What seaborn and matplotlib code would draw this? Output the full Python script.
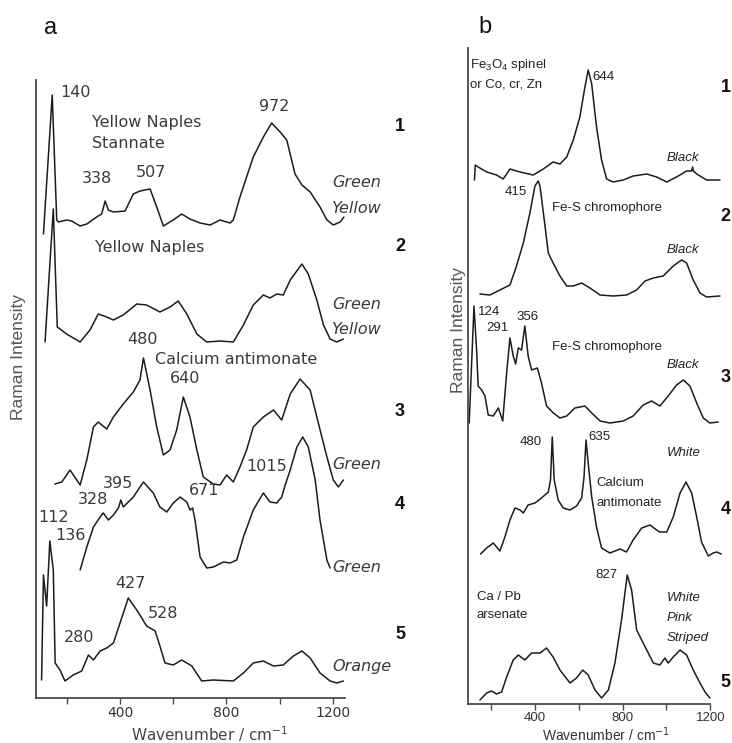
import matplotlib
matplotlib.use("Agg")
import matplotlib.pyplot as plt
import pandas as pd
import seaborn as sns

sns.set_style("ticks")
plt.rcParams['font.family'] = ['Liberation Sans', 'DejaVu Sans']
plt.rcParams['mathtext.fontset'] = 'dejavusans'

# ---------------- panel a spectra (wavenumber / cm-1, intensity a.u.) ----------------
a1_w = [112, 145, 162, 168, 199, 218, 250, 275, 312, 331, 344, 356, 375, 419, 450, 475, 513, 538, 563, 600,
        632, 663, 701, 739, 776, 814, 826, 851, 901, 939, 970, 1002, 1027, 1058, 1084, 1115, 1152, 1178,
        1202, 1228, 1242]
a1_i = [-7, 132, 7, 5, 7, 6, 1, 3, 10, 13, 26, 17, 15, 16, 33, 36, 38, 20, 1, 7,
        13, 8, 4, 2, 7, 4, 7, 30, 70, 90, 104, 95, 87, 53, 42, 35, 20, 7,
        2, 5, 10]
a2_w = [118, 149, 164, 199, 250, 287, 318, 350, 375, 412, 463, 500, 550, 588, 619, 651, 689, 726, 776, 826,
        864, 901, 939, 964, 989, 1014, 1040, 1084, 1108, 1140, 1165, 1190, 1215, 1240]
a2_i = [0, 133, 15, 8, 0, 12, 28, 25, 22, 27, 38, 37, 30, 35, 41, 28, 8, 0, 1, 0,
        17, 37, 47, 44, 48, 47, 62, 78, 68, 42, 17, 3, 0, 3]
a3_w = [155, 181, 212, 250, 275, 300, 318, 350, 375, 412, 450, 475, 488, 513, 538, 563, 588, 613, 638, 663,
        689, 713, 751, 776, 801, 826, 851, 876, 901, 939, 977, 1008, 1040, 1077, 1115, 1140, 1178, 1202,
        1221, 1240]
a3_i = [3, 5, 17, 2, 27, 60, 65, 58, 70, 83, 95, 107, 129, 97, 60, 32, 37, 57, 90, 70,
        37, 10, 3, 2, 12, 5, 20, 37, 60, 70, 77, 67, 93, 108, 97, 70, 30, 7,
        0, 7]
a4_w = [250, 275, 300, 325, 337, 356, 375, 394, 403, 412, 450, 488, 525, 550, 576, 600, 626, 651, 663, 673,
        682, 701, 726, 751, 789, 814, 839, 864, 901, 939, 964, 989, 1008, 1021, 1040, 1065, 1087, 1108,
        1134, 1152, 1178, 1190]
a4_i = [0, 23, 43, 53, 57, 50, 55, 62, 70, 63, 73, 88, 77, 63, 58, 67, 73, 68, 60, 62,
        50, 13, 2, 3, 8, 7, 10, 33, 60, 77, 68, 67, 73, 85, 100, 123, 133, 123,
        90, 50, 10, 2]
a5_w = [105, 112, 124, 136, 149, 156, 174, 193, 224, 256, 281, 300, 325, 350, 375, 400, 431, 463, 500, 532,
        550, 569, 600, 632, 670, 707, 751, 826, 864, 901, 939, 977, 1014, 1052, 1084, 1115, 1152, 1190,
        1215, 1240]
a5_i = [3, 108, 77, 142, 113, 20, 13, 2, 8, 12, 28, 23, 32, 35, 40, 60, 85, 73, 57, 52,
        37, 20, 18, 23, 17, 2, 3, 2, 10, 20, 22, 17, 18, 27, 32, 25, 10, 2,
        0, 2]
a_offsets = [471, 356, 211, 128, 15]

# ---------------- panel b spectra ----------------
b1_w = [124, 128, 141, 180, 225, 255, 286, 332, 392, 438, 483, 514, 545, 575, 605, 628, 643, 659, 681, 704,
        727, 757, 803, 848, 910, 955, 1001, 1046, 1092, 1115, 1119, 1123, 1138, 1183, 1244]
b1_i = [2, 17, 15, 10, 7, 3, 13, 10, 7, 13, 20, 18, 25, 42, 65, 95, 112, 98, 55, 22,
        3, 0, 2, 6, 8, 5, 0, 5, 11, 11, 15, 11, 8, 2, 2]
b2_w = [149, 195, 240, 286, 316, 347, 377, 400, 415, 423, 446, 461, 483, 514, 545, 575, 613, 651, 697, 757,
        818, 864, 902, 940, 985, 1031, 1069, 1092, 1122, 1153, 1183, 1244]
b2_i = [3, 2, 7, 12, 31, 54, 84, 111, 116, 111, 71, 44, 34, 21, 11, 11, 14, 9, 2, 1,
        2, 7, 16, 19, 21, 31, 37, 34, 17, 4, 0, 1]
b3_w = [100, 122, 134, 141, 157, 172, 187, 210, 233, 253, 271, 286, 301, 312, 324, 339, 354, 369, 385, 411,
        430, 453, 484, 514, 545, 582, 628, 659, 697, 742, 803, 848, 894, 932, 970, 1008, 1046, 1077,
        1107, 1138, 1168, 1198, 1236]
b3_i = [0, 117, 73, 37, 33, 27, 8, 7, 15, 2, 50, 85, 67, 59, 75, 73, 97, 67, 53, 55,
        40, 17, 10, 5, 7, 15, 17, 10, 2, 0, 2, 7, 18, 22, 17, 27, 38, 43,
        37, 20, 5, 0, 1]
b4_w = [152, 180, 210, 225, 240, 263, 286, 309, 332, 347, 369, 400, 430, 461, 471, 479, 488, 506, 529, 560,
        590, 613, 624, 633, 643, 659, 681, 704, 742, 788, 818, 848, 887, 925, 955, 970, 1001, 1031,
        1062, 1089, 1115, 1138, 1160, 1191, 1213, 1229, 1250]
b4_i = [2, 8, 13, 9, 5, 19, 36, 48, 46, 43, 51, 53, 58, 64, 76, 119, 76, 56, 48, 46,
        50, 58, 79, 116, 93, 59, 29, 8, 3, 7, 4, 16, 28, 31, 26, 24, 24, 39,
        63, 74, 63, 39, 14, 0, 3, 4, 2]
b5_w = [149, 180, 202, 225, 248, 271, 301, 324, 354, 385, 423, 453, 483, 514, 560, 590, 618, 643, 674, 704,
        735, 765, 795, 821, 841, 864, 887, 917, 940, 970, 993, 1008, 1031, 1062, 1092, 1122, 1153, 1176,
        1198]
b5_i = [0, 7, 9, 6, 8, 23, 40, 45, 40, 47, 47, 52, 43, 30, 17, 22, 30, 25, 10, 2,
        10, 37, 80, 125, 110, 70, 60, 47, 37, 35, 42, 37, 43, 50, 45, 30, 17, 8,
        2]
b_offsets = [522, 407, 281, 148, 4]

tick_vals = [200, 400, 600, 800, 1000, 1200]
tick_labels = ['', '400', '', '800', '', '1200']


def frame(ws, ints, offs):
    rows = []
    for k, (w, i, o) in enumerate(zip(ws, ints, offs), start=1):
        for x, y in zip(w, i):
            rows.append((k, x, y + o))
    return pd.DataFrame(rows, columns=['trace', 'wavenumber', 'intensity'])


dfa = frame([a1_w, a2_w, a3_w, a4_w, a5_w], [a1_i, a2_i, a3_i, a4_i, a5_i], a_offsets)
dfb = frame([b1_w, b2_w, b3_w, b4_w, b5_w], [b1_i, b2_i, b3_i, b4_i, b5_i], b_offsets)

fig = plt.figure(figsize=(7.32, 7.43), dpi=100)
axa = fig.add_axes([0.04918, 0.06057, 0.42213, 0.83176])
axb = fig.add_axes([0.63975, 0.05249, 0.34617, 0.88291])

for ax, df in ((axa, dfa), (axb, dfb)):
    sns.lineplot(data=df, x='wavenumber', y='intensity', units='trace', estimator=None,
                 sort=False, color='#1c1c1c', lw=1.1, ax=ax, legend=False)
    for s in ('top', 'right'):
        ax.spines[s].set_visible(False)
    for s in ('left', 'bottom'):
        ax.spines[s].set_color('#4a4a4a')
        ax.spines[s].set_linewidth(1.3)
    ax.set_yticks([])
    ax.set_xticks(tick_vals)
    ax.set_xticklabels(tick_labels)
    ax.tick_params(axis='x', direction='out', length=4, width=1, color='#4a4a4a',
                   labelcolor='#333333', pad=1.5)

axa.set_xlim(84, 1246)
axa.set_ylim(0, 618)
axb.set_xlim(96, 1252)
axb.set_ylim(0, 656)
axb.spines['bottom'].set_bounds(96, 1200)

# tick label fonts
for lab in axa.get_xticklabels():
    lab.set_family('DejaVu Sans'); lab.set_fontsize(10)
for lab in axb.get_xticklabels():
    lab.set_family('Liberation Sans'); lab.set_fontsize(9.5)

# axis labels
axa.set_ylabel('Raman Intensity', fontsize=12.5, color='#555555', va='center')
axa.yaxis.set_label_coords(-0.058, 0.552)
axa.set_xlabel('Wavenumber / cm$^{-1}$', fontsize=11, family='DejaVu Sans', color='#444444', va='center')
axa.xaxis.set_label_coords(0.563, -0.058)
axb.set_ylabel('Raman Intensity', fontsize=12.5, color='#555555', va='center')
axb.yaxis.set_label_coords(-0.037, 0.570)
axb.set_xlabel('Wavenumber / cm$^{-1}$', fontsize=10, color='#333333', va='center')
axb.xaxis.set_label_coords(0.545, -0.047)

# panel letters
axa.text(137, 670, 'a', fontsize=17, ha='center', va='center', color='#111111')
axb.text(172, 677, 'b', fontsize=17, ha='center', va='center', color='#111111')

# ---------------- panel a annotations ----------------
ta = dict(family='DejaVu Sans', fontsize=11.5, color='#3a3a3a', va='center')
axa.text(174, 605, '140', ha='left', **ta)
axa.text(981, 591, '972', ha='center', **ta)
axa.text(295, 575, 'Yellow Naples', ha='left', **ta)
axa.text(295, 554, 'Stannate', ha='left', **ta)
axa.text(315, 519, '338', ha='center', **ta)
axa.text(518, 525, '507', ha='center', **ta)
axa.text(306, 450, 'Yellow Naples', ha='left', **ta)
axa.text(485, 358, '480', ha='center', **ta)
axa.text(532, 338, 'Calcium antimonate', ha='left', **ta)
axa.text(643, 319, '640', ha='center', **ta)
axa.text(951, 231, '1015', ha='center', **ta)
axa.text(391, 214, '395', ha='center', **ta)
axa.text(716, 207, '671', ha='center', **ta)
axa.text(300, 198, '328', ha='center', **ta)
axa.text(150, 180, '112', ha='center', **ta)
axa.text(212, 162, '136', ha='center', **ta)
axa.text(438, 114, '427', ha='center', **ta)
axa.text(560, 84, '528', ha='center', **ta)
axa.text(248, 60, '280', ha='center', **ta)

ti = dict(family='DejaVu Sans', fontsize=11.5, style='italic', color='#3a3a3a', va='center', ha='left')
for y, s in ((515, 'Green'), (489, 'Yellow'), (393, 'Green'), (368, 'Yellow'),
             (233, 'Green'), (130, 'Green'), (31, 'Orange')):
    axa.text(1197, y, s, **ti)

tn = dict(fontsize=13, fontweight='bold', color='#111111', va='center', ha='center')
for y, s in ((571, '1'), (451, '2'), (286, '3'), (193, '4'), (63, '5')):
    axa.text(1453, y, s, **tn)

# ---------------- panel b annotations ----------------
tb = dict(family='Liberation Sans', fontsize=9.5, color='#222222', va='center')
axb.text(104, 639, r'Fe$_\mathregular{3}$O$_\mathregular{4}$ spinel', ha='left', **tb)
axb.text(104, 619, 'or Co, cr, Zn', ha='left', **tb)
axb.text(660, 627, '644', ha='left', **tb)
axb.text(311, 512, '415', ha='center', **tb)
axb.text(478, 496, 'Fe-S chromophore', ha='left', **tb)
axb.text(140, 392, '124', ha='left', **tb)
axb.text(366, 387, '356', ha='center', **tb)
axb.text(227, 376, '291', ha='center', **tb)
axb.text(478, 357, 'Fe-S chromophore', ha='left', **tb)
axb.text(380, 262, '480', ha='center', **tb)
axb.text(646, 267, '635', ha='left', **tb)
axb.text(681, 221, 'Calcium', ha='left', **tb)
axb.text(681, 201, 'antimonate', ha='left', **tb)
axb.text(724, 129, '827', ha='center', **tb)
axb.text(135, 107, 'Ca / Pb', ha='left', **tb)
axb.text(135, 89, 'arsenate', ha='left', **tb)

tbi = dict(family='Liberation Sans', fontsize=9.5, style='italic', color='#222222', va='center', ha='left')
for y, s in ((546, 'Black'), (454, 'Black'), (339, 'Black'), (251, 'White'),
             (106, 'White'), (86, 'Pink'), (66, 'Striped')):
    axb.text(1002, y, s, **tbi)

for y, s in ((616, '1'), (487, '2'), (326, '3'), (194, '4'), (21, '5')):
    axb.text(1270, y, s, **tn)

fig.savefig('out.png', dpi=100)
